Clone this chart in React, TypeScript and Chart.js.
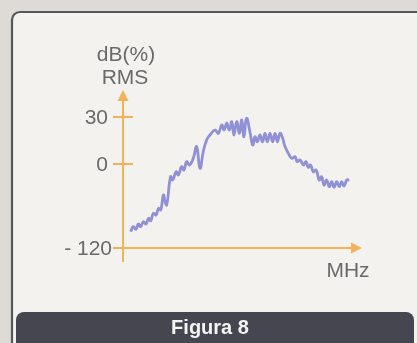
import React, { useEffect, useRef } from "react";
import { Chart, registerables } from "chart.js";

Chart.register(...registerables);

// Frequency position (arbitrary MHz units along the axis, 0..100)
const mhz = [
  3.2, 4.3, 5.4, 6.4, 7.4, 8.5, 9.6, 10.7, 11.6, 12.7, 13.8, 14.9, 15.8, 16.9, 17.6, 18.3,
  19.9, 20.8, 22.2, 23.2, 24.5, 25.5, 26.6, 27.8, 29.4, 30.8, 32.2, 33.6, 35, 36.4, 38.5,
  39.9, 41.3, 42.3, 43.4, 44.5, 45.5, 46.4, 47.6, 48.7, 49.7, 50.6, 51.7, 53.1, 54.3, 55.2,
  56.2, 57.3, 58.4, 59.4, 60.4, 61.5, 62.6, 63.6, 64.6, 65.7, 66.8, 67.8, 69.2, 70.6, 72,
  72.9, 74.1, 75.5, 76.6, 77.5, 78.5, 79.6, 80.8, 82.1, 83.1, 84.1, 85.2, 86.3, 87.3, 88.3,
  89.4, 90.5, 91.5, 92.5, 93.6, 94.7,
];
// Level in dB (%) RMS
const levelDb = [
  -96.7, -89.5, -93.3, -85.7, -89.5, -82.4, -85.7, -77.6, -81, -70.5, -72.9, -63.3, -65.7, -44.3, -53.8, -58.6,
  -18.1, -22.9, -11, -15.7, -3.8, -8.6, 1.5, -1.4, 3.6, 11.1, -6.2, 8, 15.3, 18.5, 21.7,
  19.6, 24.9, 21.7, 26, 21.7, 27, 18.5, 27, 19.6, 28.1, 17.4, 29.2, 20.6, 12.1, 17.4,
  14.2, 18.5, 14.2, 19.6, 14.2, 19.6, 14.2, 19.6, 14.2, 19.6, 16.4, 11.1, 6.8, 3.6, 4.7,
  1.5, 2.6, -1.4, 1.5, -4.8, -1.4, -11, -8.6, -22.9, -18.1, -30, -22.9, -32.4, -25.2, -33.3,
  -25.2, -32.4, -25.2, -31.4, -22.9, -22.9,
];
const yTicks = [-120, 0, 30];
const yTickLabels = ["- 120", "0", "30"];
const yTitle = ["dB(%)", "RMS"];
const xTitle = "MHz";
const caption = "Figura 8";

// The printed axis is not linear: -120..0 is compressed relative to 0..30
const axisUnit = (v: number) => (v < 0 ? v * 0.7 : v * (47 / 30));

const FONT = "'Liberation Sans', Arial, sans-serif";
const ORANGE = "#f2b257";
const TEXT = "#6a6a6a";

const decor = {
  id: "decor",
  beforeDraw(chart: any) {
    const { ctx, width, height } = chart;
    ctx.save();
    ctx.fillStyle = "#dedbd7";
    ctx.fillRect(0, 0, width, height);
    // panel
    const px = 12, py = 12, pw = width + 20, ph = height + 20, r = 8;
    ctx.beginPath();
    ctx.moveTo(px + r, py);
    ctx.lineTo(px + pw, py);
    ctx.lineTo(px + pw, py + ph);
    ctx.lineTo(px, py + ph);
    ctx.lineTo(px, py + r);
    ctx.arcTo(px, py, px + r, py, r);
    ctx.closePath();
    ctx.fillStyle = "#f4f2ef";
    ctx.fill();
    ctx.lineWidth = 2.2;
    ctx.strokeStyle = "#56575a";
    ctx.stroke();
    // caption bar
    const cx = 16, cy = 312, cw = 398, ch = 32, cr = 8;
    ctx.beginPath();
    ctx.moveTo(cx + cr, cy);
    ctx.lineTo(cx + cw - cr, cy);
    ctx.arcTo(cx + cw, cy, cx + cw, cy + cr, cr);
    ctx.lineTo(cx + cw, cy + ch);
    ctx.lineTo(cx, cy + ch);
    ctx.lineTo(cx, cy + cr);
    ctx.arcTo(cx, cy, cx + cr, cy, cr);
    ctx.closePath();
    ctx.fillStyle = "#45464f";
    ctx.fill();
    ctx.fillStyle = "#f4f4f4";
    ctx.font = `bold 20px ${FONT}`;
    ctx.textAlign = "center";
    ctx.textBaseline = "middle";
    ctx.fillText(caption, 210, 328);
    ctx.restore();
  },
  beforeDatasetsDraw(chart: any) {
    const { ctx } = chart;
    const xs = chart.scales.x;
    const ys = chart.scales.y;
    const ax = xs.getPixelForValue(0);
    const ay = ys.getPixelForValue(axisUnit(-120));
    const top = chart.chartArea.top;
    const right = chart.chartArea.right;
    ctx.save();
    ctx.strokeStyle = ORANGE;
    ctx.fillStyle = ORANGE;
    ctx.lineWidth = 2;
    // y axis
    ctx.beginPath();
    ctx.moveTo(ax, top + 9);
    ctx.lineTo(ax, ay + 14);
    ctx.stroke();
    ctx.beginPath();
    ctx.moveTo(ax, top);
    ctx.lineTo(ax - 5.5, top + 11);
    ctx.lineTo(ax + 5.5, top + 11);
    ctx.closePath();
    ctx.fill();
    // x axis
    ctx.beginPath();
    ctx.moveTo(ax - 10, ay);
    ctx.lineTo(right - 9, ay);
    ctx.stroke();
    ctx.beginPath();
    ctx.moveTo(right, ay);
    ctx.lineTo(right - 11, ay - 5.5);
    ctx.lineTo(right - 11, ay + 5.5);
    ctx.closePath();
    ctx.fill();
    // ticks and labels
    ctx.font = `21px ${FONT}`;
    ctx.textBaseline = "middle";
    yTicks.forEach((t, i) => {
      const y = ys.getPixelForValue(axisUnit(t));
      if (t !== -120) {
        ctx.beginPath();
        ctx.moveTo(ax - 10, y);
        ctx.lineTo(ax + 10, y);
        ctx.stroke();
      }
      ctx.fillStyle = TEXT;
      ctx.textAlign = "right";
      ctx.fillText(yTickLabels[i], t === -120 ? ax - 11 : ax - 15, y + 1);
    });
    ctx.textAlign = "center";
    ctx.fillText(yTitle[0], ax + 3, 55);
    ctx.fillText(yTitle[1], ax + 2, 78);
    ctx.fillText(xTitle, right - 14, 271);
    ctx.restore();
  },
};

export default function App() {
  const ref = useRef<HTMLCanvasElement>(null);
  useEffect(() => {
    if (!ref.current) return;
    const points = mhz.map((x, i) => ({ x, y: axisUnit(levelDb[i]) }));
    const chart = new Chart(ref.current, {
      type: "line",
      data: {
        datasets: [
          {
            data: points,
            borderColor: "#8f91d4",
            borderWidth: 2.8,
            pointRadius: 0,
            tension: 0.45,
            fill: false,
          },
        ],
      },
      options: {
        responsive: false,
        animation: false,
        layout: { padding: { left: 123, right: 55, top: 90, bottom: 95 } },
        plugins: { legend: { display: false }, tooltip: { enabled: false } },
        scales: {
          x: { type: "linear", display: false, min: 0, max: 100 },
          y: { type: "linear", display: false, min: axisUnit(-120), max: 74 },
        },
      },
      plugins: [decor],
    });
    return () => chart.destroy();
  }, []);
  return (
    <div style={{ position: "fixed", left: 0, top: 0, width: 417, height: 343 }}>
      <canvas ref={ref} width={417} height={343} style={{ display: "block" }} />
    </div>
  );
}
